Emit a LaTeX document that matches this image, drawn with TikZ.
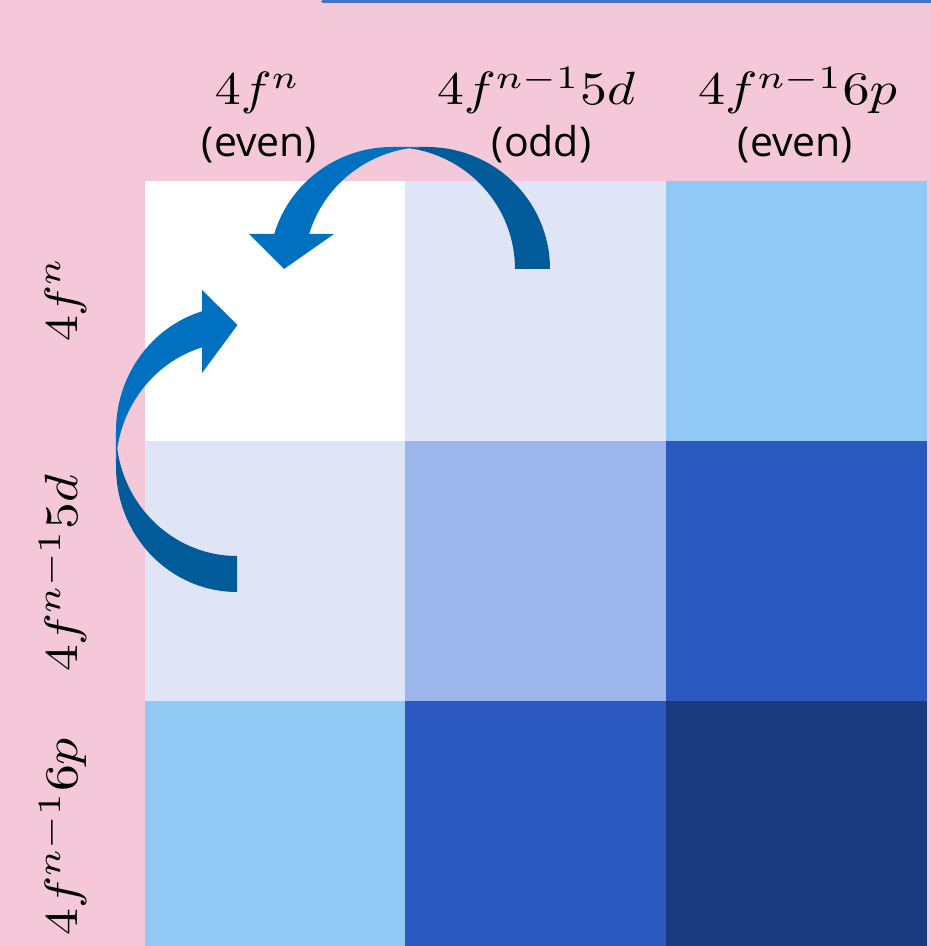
\documentclass[tikz,border=0pt]{standalone}
\usepackage{fontspec}
\setsansfont{Open Sans}
\usepackage{graphicx}
\definecolor{bgpink}{HTML}{F4C8D9}
\definecolor{cellA}{HTML}{DFE5F7}
\definecolor{cellB}{HTML}{92C8F4}
\definecolor{cellC}{HTML}{9CB5EA}
\definecolor{cellD}{HTML}{2B59BF}
\definecolor{cellE}{HTML}{1C3A7E}
\definecolor{arrlight}{HTML}{0070C0}
\definecolor{arrdark}{HTML}{005B9B}
\definecolor{topline}{HTML}{4472C4}
\newcommand\mylab[2]{\resizebox{#1pt}{\height}{\scalebox{4.66}{$#2$}}}
\begin{document}
\begin{tikzpicture}[x=1pt,y=1pt,
  mlabel/.style={inner sep=0pt, anchor=base},
  slabel/.style={inner sep=0pt, anchor=base, font=\fontsize{41}{48}\selectfont\sffamily},
  frontpart/.style={fill=arrlight},
  backpart/.style={fill=arrdark}]
\useasboundingbox (0,0) rectangle (931,946);
\fill[bgpink] (0,0) rectangle (931,946);
\draw[topline, line width=3, line cap=round] (322.5,944.5) -- (935,944.5);
% cells
\fill[white] (145,505) rectangle (405,765);
\fill[cellA] (405,505) rectangle (666,765);
\fill[cellB] (666,505) rectangle (927,765);
\fill[cellA] (145,245) rectangle (405,505);
\fill[cellC] (405,245) rectangle (666,505);
\fill[cellD] (666,245) rectangle (927,505);
\fill[cellB] (145,0) rectangle (405,245);
\fill[cellD] (405,0) rectangle (666,245);
\fill[cellE] (666,0) rectangle (927,245);
% column labels
\node[mlabel] (col1) at (257.5,841) {\mylab{85}{4f^{n}}};
\node[mlabel] (col2) at (536,841) {\mylab{198}{4f^{n-1}5d}};
\node[mlabel] (col3) at (797.5,841) {\mylab{199}{4f^{n-1}6p}};
\node[slabel] (par1) at (259.5,789) {(even)};
\node[slabel] (par2) at (541.5,789) {(odd)};
\node[slabel] (par3) at (795.5,789) {(even)};
% row labels
\node[mlabel, rotate=90] (row1) at (77,646.5) {\mylab{85}{4f^{n}}};
\node[mlabel, rotate=90] (row2) at (77,372.5) {\mylab{197}{4f^{n-1}5d}};
\node[mlabel, rotate=90] (row3) at (77,109.5) {\mylab{197}{4f^{n-1}6p}};
% top curved arrow (from 4f^{n-1}5d to 4f^n)
\fill[frontpart] (284,677) -- (249,712) -- (274.2,712)
  arc[start angle=163.33, end angle=90, x radius=123, y radius=122]
  -- (427,799)
  arc[start angle=90, end angle=163.33, x radius=123, y radius=122]
  -- (334,712) -- cycle;
\fill[backpart] (550,677)
  arc[start angle=0, end angle=98.18, x radius=123, y radius=122]
  arc[start angle=81.82, end angle=0, x radius=123, y radius=122]
  -- cycle;
% left curved arrow
\fill[frontpart] (237.5,621) -- (202,656) -- (202,634.7)
  arc[start angle=106.81, end angle=180, x radius=121, y radius=125]
  -- (116,479)
  arc[start angle=180, end angle=106.81, x radius=121, y radius=125]
  -- (202,573) -- cycle;
\fill[backpart] (237,354)
  arc[start angle=270, end angle=171.72, x radius=121, y radius=125]
  arc[start angle=188.28, end angle=270, x radius=121, y radius=125]
  -- cycle;
\end{tikzpicture}
\end{document}
